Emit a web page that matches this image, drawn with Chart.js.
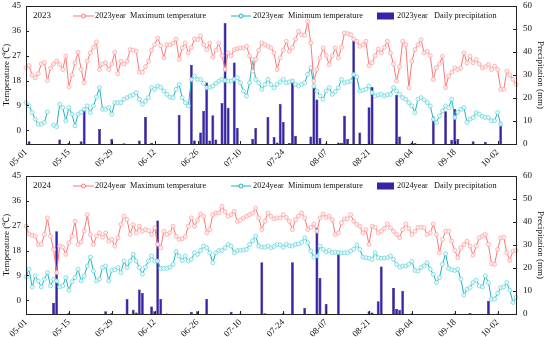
<!DOCTYPE html>
<html>
<head>
<meta charset="utf-8">
<script src="https://cdn.jsdelivr.net/npm/chart.js@4.4.0/dist/chart.umd.min.js"></script>
<style>
  html, body { margin: 0; padding: 0; background: #fff; }
  #wrap { position: relative; width: 550px; height: 337px; }
  canvas { position: absolute; left: 0; }
</style>
</head>
<body>
<div id="wrap">
  <canvas id="c2023" width="550" height="170" style="top:0px"></canvas>
  <canvas id="c2024" width="550" height="167" style="top:170px"></canvas>
</div>
<script>
// x tick labels (every 14 days)
const tickLabels = ["05-01","05-15","05-29","06-12","06-26","07-10","07-24","08-07","08-21","09-04","09-18","10-02"];
const tempTicks = [0, 9, 18, 27, 36, 45];

// 2023 daily values, 05-01 .. 10-08
const max2023 = [
  22.6,23.4,20,19,20.5,24,24.5,18,22.5,24,
  25,23.8,22,26.8,15.7,20,24.4,28.2,22,17.2,
  25,28,30,32,22,24,24.4,22,24,28.2,
  20.5,25,24,25,29.2,29,28.6,21,21,23,
  25,29,31,33.4,30.6,26.2,31,31,31.5,33,
  25.6,29.8,31.6,28,30,33,32.8,34.2,31,29.2,
  31.6,26.5,29,31.6,27,22,28,27,29.2,29.5,
  29.8,29.8,30.4,27,21.4,25.6,29,31.6,31,30.4,
  29.8,28,22,26.2,29,32.2,28.6,30,33,35.8,
  34.6,34.4,39.4,31.6,17.8,22,26.2,29.8,27,23.8,
  27,29.8,26.2,30,35.2,35,34.6,33,32.2,30.4,
  31,32.2,23.4,24.4,27,29.4,28,30,32.2,28,
  24,17.8,23,32.2,31,15.4,25,29.2,31,32.8,
  28,28.6,27,18.4,22.6,24,26.8,15.4,19.6,21,
  22.6,22,22.5,28,24.4,26.8,24.4,25.6,24,22.6,
  23,23.8,22,23.2,22,14.8,14.8,21.4,20,18.4,
  16.6
];
const min2023 = [
  10,8.8,6.4,4,2.2,2.2,2.8,6.6,null,1.8,
  1.3,9.4,8.2,3.4,8.2,5.8,1.6,5.8,6.5,7.6,
  8.8,6.4,8.8,12,15.4,7.6,7.6,8.2,5.8,10,
  10,10,11.2,11.8,12.4,12.8,13.6,11.2,9.4,10.5,
  11.8,15.4,14.8,16,15.5,14.2,13,12,11.8,14.8,
  16.6,11.8,10,8.8,18.4,19.6,18.4,18.4,17,15.4,
  15.5,16,17,17.8,18.4,18,17.8,17.8,18.5,19,
  17.2,14.2,12.4,17.2,25.6,18.4,17.2,14.8,16.5,18.4,
  16.5,15.4,16.6,17.5,18.4,17.2,17.5,17.8,16.6,16,
  16.6,17.2,20.2,22.6,16,14.2,12.5,11.2,14.2,15.4,
  13,14,15.4,18.4,17.2,17.5,17.8,20.2,19.3,14.2,
  14.5,14.8,16,13.6,12.4,12.8,13,12.4,12.8,13,
  15.4,14.2,13,11.8,11.2,10,8.8,6.4,11.2,11.8,
  11,10,8.8,4,2.8,5.2,7,8.8,8.2,11.2,
  4.6,6.5,7.6,8.2,2.8,4,4.6,6.4,5.8,5,
  4.6,4.6,3.4,3.4,6.4,2.2,null,null,null,null,
  null
];
const rain2023 = [
  0,1.2,0,0,0,0,0,0,0,0,
  0,2,0,0,0.5,0,0,0,1.2,15,
  0,0,0,0,6.5,0,0,0,2.2,0,
  0,0,0.3,0,0,0,0,1.5,0,11.7,
  0,0.5,0,0,0,0,0,0,0,0,
  12.6,0,0,0,34.3,1.5,0,5,14.5,26.7,
  1.5,12.5,2,0,17.8,52.6,15.8,0,35.4,7,
  0,0,0,0,2.2,7,0,0,0,11.7,
  0,3,0.7,17.4,9.6,0,0.4,28,3.6,0,
  0,0,0,3.3,24.3,19.3,2.6,0,0.3,0,
  0,0,0.7,0.4,12.3,2.2,0,45,0,5,
  0,0,16,24.8,0,0,0,0,0,0,
  0,21.4,3.3,0,0,0,0.7,0.4,0,0,
  0,0,0,12,0,0,0,14.2,0,1.9,
  15.2,2.2,0,0,0,0,1.2,0,0,0,
  0.9,0,0,0,0,9.4,0,0,0,0,
  0
];

// 2024 daily values, 05-01 .. 10-08
const max2024 = [
  26.8,24,23.5,23.2,20.2,20.2,23.8,29.8,23.2,18.4,
  10,19.6,19.2,16.6,20.8,23.2,28.6,20.2,21.1,25,
  31,23.8,20.2,23.2,24.4,22.8,24.4,21.4,22,19.6,
  22.6,27.4,30.4,29.2,23.8,27.4,24.4,26.8,25,25.6,
  25.2,23.8,26.2,20.2,19,25,23.8,24.5,26.8,23.2,
  22,22.3,23,26.8,29.8,26.8,29,31.2,30.4,24.4,
  25.6,31,31.6,31.6,34,32,30.4,31,32.2,28.6,
  29,29.8,30.4,31,31.5,33.4,29.8,25.6,28.6,31.6,
  30.4,29.5,29.8,29.8,31,30,28.6,25.6,29.2,30.5,
  31.6,29.8,25.6,26.4,27.6,25,29.8,31.2,30,30.4,
  29.2,23.8,24.4,28,29.5,29.5,31,28.6,27.5,26.8,
  24.4,25.6,20.2,26.8,26.4,24.4,25,26,27.6,26.2,
  25,23.8,22.6,25.6,27.6,26,23.8,25,26.4,26.4,
  26.2,23.8,24.4,27.6,23.8,17.2,22,25,25,21.4,
  18,15.4,19,20.2,21.4,19.6,16.3,19.6,22.6,23.2,
  23.8,20.2,13.2,13,18.4,22.6,22.8,17.2,14.4,17.8,
  18
];
const min2024 = [
  8.4,11.2,4.8,8.8,7,4.8,7.6,10,5.2,7.6,
  7,4.8,5.2,8.2,3.6,6.7,8.2,11.2,7,8.8,
  12.4,15.6,10.6,7,7.6,11.8,12.4,7,10.8,11,
  11.8,10,14.2,11.8,14.2,16.6,14.2,11.8,9.4,12,
  14.2,16,14.2,14.2,11.5,11.5,11.5,12,13,17.6,
  16,14.4,16,14.2,14.8,17.2,16.6,18,19.6,19,
  17.2,13.6,17.2,18,18,19,20.2,19.6,17.2,18,
  18,18.2,18.4,20.2,21.5,23.2,19.6,19.2,19.2,19.6,
  19,19.5,20.2,20,19.2,20.2,19.8,19.6,20.2,20.4,
  21,22.6,20.8,17.8,15.6,16,19.6,18.4,17.5,18,
  17.2,17.4,17.2,17.2,17.2,17.2,17.8,18.5,20,18.4,
  15.6,15.4,15.2,14.8,17.2,15.4,15.2,15.3,15.4,16,
  14.8,13,12,12.4,12.4,13,14,10.8,10.6,11.8,
  12.5,13.6,11.2,9.4,6.4,8.2,13,16.8,11.5,11,
  10.8,11.2,7.6,1.9,4,4.6,6.4,7.2,5.2,4.8,
  8.8,6.4,0.4,0.4,2.5,4.6,4.8,6.4,3.6,-0.8,
  1
];
const rain2024 = [
  0,0,0,0,0,0,0,0,0,4.8,
  36,0,0,0,0.5,0,0,0,0,0,
  0,0,0,0,0,0,1.2,0,0.4,0,
  0,0,0,6.5,0,1.9,0.7,10.6,9.1,0,
  0,3.3,1.2,40.6,6.5,0,0.2,0,0,0,
  0,0,0,0,1,0,1.2,0,0,6.5,
  0,0,0,0,0,0,0,1,0,0,
  0.2,0,0,0,0,0,0,22.5,0.3,0,
  0,0,0,0,0.3,0,0,22.5,0,0,
  0,2.6,0,0,0,37.5,15.6,0,4.3,0,
  0,0,27.4,0,0,0,0,0,0,0,
  0,0,1.2,0.6,0,5.5,20.7,0,0,0,
  11.3,2.2,1.9,10.1,0,0,0.3,0,0,0,
  0,0,0,0,0,0,0,0,0,0,
  0.3,0,0,0,0,0.4,0,0,0,0,
  0,5.8,0,0,0.2,0,0,0,0,0,
  0
];

// day labels mm-dd
const days = [];
for (let i = 0; i < max2023.length; i++) {
  const d = new Date(2023, 4, 1 + i);
  days.push(String(d.getMonth() + 1).padStart(2, "0") + "-" + String(d.getDate()).padStart(2, "0"));
}

const FONT = "Liberation Serif";
const redCol = "#ff7676";
const tealCol = "#1fb3bf";
const barCol = "#3624a8";

// frame, inward ticks and legend inside the plot
const framePlugin = {
  id: "frame",
  afterDraw(chart, args, opts) {
    const { ctx, chartArea: a, scales } = chart;
    ctx.save();
    ctx.strokeStyle = "#222";
    ctx.lineWidth = 1;
    ctx.strokeRect(Math.round(a.left) + 0.5, Math.round(a.top) + 0.5,
      Math.round(a.right - a.left), Math.round(a.bottom - a.top));

    ctx.beginPath();
    tempTicks.forEach(v => {
      const y = Math.round(scales.y.getPixelForValue(v)) + 0.5;
      ctx.moveTo(a.left, y); ctx.lineTo(a.left + 3, y);
    });
    for (let v = 0; v <= 60; v += 10) {
      const y = Math.round(scales.y1.getPixelForValue(v)) + 0.5;
      ctx.moveTo(a.right, y); ctx.lineTo(a.right - 3, y);
    }
    days.forEach((d, i) => {
      if (tickLabels.includes(d)) {
        const x = Math.round(scales.x.getPixelForValue(i)) + 0.5;
        ctx.moveTo(x, a.bottom); ctx.lineTo(x, a.bottom - 3);
      }
    });
    ctx.stroke();

    // legend
    const y = 16;
    ctx.font = "8.3px '" + FONT + "'";
    ctx.fillStyle = "#111";
    ctx.textBaseline = "middle";
    ctx.font = "9px '" + FONT + "'";
    ctx.fillText(opts.year, 33, y);
    ctx.font = "8.3px '" + FONT + "'";

    const item = (x0, x1, col, fill) => {
      ctx.strokeStyle = col;
      ctx.lineWidth = 1;
      ctx.beginPath(); ctx.moveTo(x0, y); ctx.lineTo(x1, y); ctx.stroke();
      ctx.beginPath(); ctx.arc((x0 + x1) / 2, y, 2, 0, Math.PI * 2);
      ctx.fillStyle = fill; ctx.fill(); ctx.stroke();
    };
    item(73, 94, redCol, "#ffecec");
    ctx.fillStyle = "#111";
    ctx.fillText(opts.year + "year  Maximum temperature", 95, y);
    item(231, 251, tealCol, "#e8fbfc");
    ctx.fillStyle = "#111";
    ctx.fillText(opts.year + "year  Minimum temperature", 253, y);
    ctx.fillStyle = barCol;
    ctx.fillRect(377, y - 3.5, 17, 7);
    ctx.fillStyle = "#111";
    ctx.fillText(opts.year + "year   Daily precipitation", 397, y);
    ctx.restore();
  }
};

function noPad(s) {
  s.paddingTop = 0; s.paddingBottom = 0; s.paddingLeft = 0; s.paddingRight = 0;
}

function makeChart(id, year, maxT, minT, rain) {
  const canvas = document.getElementById(id);
  const H = canvas.height;
  return new Chart(canvas, {
    data: {
      labels: days,
      datasets: [
        {
          type: "line", label: year + "year Maximum temperature", data: maxT, yAxisID: "y",
          borderColor: redCol, borderWidth: 1, pointRadius: 2, pointBorderWidth: 0.7,
          pointBackgroundColor: "rgba(255,240,240,0.9)", pointBorderColor: "#ff9c9c",
          tension: 0, spanGaps: false, order: 1
        },
        {
          type: "line", label: year + "year Minimum temperature", data: minT, yAxisID: "y",
          borderColor: tealCol, borderWidth: 1, pointRadius: 2, pointBorderWidth: 0.7,
          pointBackgroundColor: "rgba(235,252,253,0.9)", pointBorderColor: "#62d2da",
          tension: 0, spanGaps: false, order: 1
        },
        {
          type: "bar", label: year + "year Daily precipitation", data: rain, yAxisID: "y1",
          backgroundColor: barCol, borderColor: "#1d1275", borderWidth: 0.5,
          barPercentage: 0.95, categoryPercentage: 1, order: 2
        }
      ]
    },
    options: {
      responsive: false,
      animation: false,
      devicePixelRatio: 1,
      layout: { padding: { top: 6, left: 0, right: 0, bottom: 0 } },
      plugins: { legend: { display: false }, tooltip: { enabled: false }, frame: { year: year } },
      scales: {
        x: {
          type: "category", offset: false,
          grid: { display: false, drawTicks: false }, border: { display: false },
          ticks: {
            autoSkip: false, maxRotation: 45, minRotation: 45, padding: 3,
            color: "#111", font: { family: FONT, size: 9 },
            callback: function (v) { const l = days[v]; return tickLabels.includes(l) ? l : null; }
          },
          afterFit: s => { s.height = H - 6 - 138; noPad(s); }
        },
        y: {
          position: "left", min: -5, max: 45,
          afterBuildTicks: s => { s.ticks = tempTicks.map(v => ({ value: v })); },
          grid: { display: false, drawTicks: false }, border: { display: false },
          ticks: { padding: 5, color: "#111", font: { family: FONT, size: 9 } },
          title: { display: true, text: "Temperature (℃)", color: "#111", font: { family: FONT, size: 9 }, padding: 1 },
          afterFit: s => { s.width = 26; noPad(s); }
        },
        y1: {
          position: "right", min: 0, max: 60,
          grid: { display: false, drawTicks: false }, border: { display: false },
          ticks: { stepSize: 10, padding: 7, color: "#111", font: { family: FONT, size: 9 } },
          title: { display: true, text: "Precipitation (mm)", color: "#111", font: { family: FONT, size: 9 }, padding: 4 },
          afterFit: s => { s.width = 34; noPad(s); }
        }
      }
    },
    plugins: [framePlugin]
  });
}

makeChart("c2023", "2023", max2023, min2023, rain2023);
makeChart("c2024", "2024", max2024, min2024, rain2024);
</script>
</body>
</html>
